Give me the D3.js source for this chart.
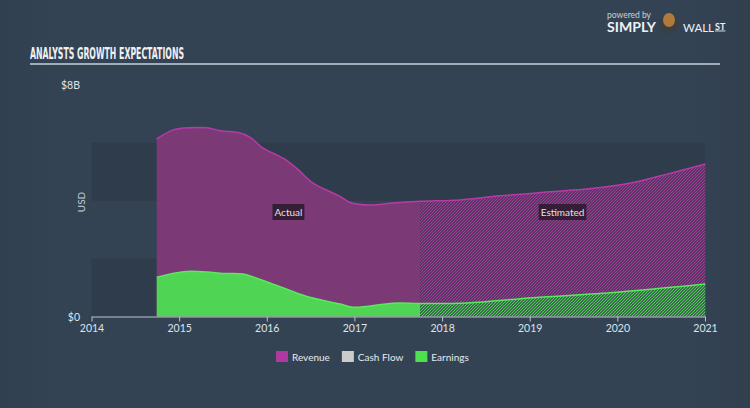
<!DOCTYPE html>
<html><head><meta charset="utf-8">
<script src="https://cdn.jsdelivr.net/npm/d3@7/dist/d3.min.js"></script>
<style>
html,body{margin:0;padding:0;background:#344354;}
svg{display:block;}
</style></head>
<body>
<svg id="c" width="750" height="408"></svg>
<script>
// ---- data ----
const revYears = [2014.744,2014.93,2015.045,2015.315,2015.467,2015.695,2015.81,2015.958,2016.186,2016.342,2016.529,2016.837,2016.95,2017.18,2017.44,2017.75,2018.207,2018.663,2019.425,2019.805,2020.18,2020.566,2021.003];
const revValues = [6.14,6.45,6.51,6.52,6.42,6.34,6.19,5.82,5.47,5.12,4.61,4.15,3.94,3.85,3.92,3.98,4.03,4.17,4.35,4.46,4.63,4.92,5.27];
const earnYears = [2014.744,2015.05,2015.315,2015.50,2015.73,2015.886,2016.15,2016.457,2016.837,2016.99,2017.44,2017.75,2018.283,2019.04,2019.995,2021.003];
const earnValues = [1.36,1.55,1.54,1.49,1.47,1.32,1.03,0.69,0.43,0.32,0.46,0.45,0.47,0.65,0.84,1.12];
const estimateStart = 2017.75;
const xTickYears = [2014,2015,2016,2017,2018,2019,2020,2021];
const yLabels = [{v:0,t:"$0"},{v:8,t:"$8B"}];
const bandEdges = [0,2,4,6];
const legendItems = [{name:"Revenue",color:"#b0389f"},{name:"Cash Flow",color:"#cccccc"},{name:"Earnings",color:"#4fe050"}];

// ---- setup ----
const svg = d3.select("#c");
const W=750,H=408;
const x = d3.scaleLinear().domain([2014,2021]).range([91.5,705]);
const y = d3.scaleLinear().domain([0,8]).range([316.5,85]);

const defs = svg.append("defs");
const bg = defs.append("linearGradient").attr("id","bg").attr("x1",0).attr("x2",1).attr("y1",0).attr("y2",0);
bg.append("stop").attr("offset","0%").attr("stop-color","#314050");
bg.append("stop").attr("offset","8%").attr("stop-color","#344354");
bg.append("stop").attr("offset","92%").attr("stop-color","#344354");
bg.append("stop").attr("offset","100%").attr("stop-color","#313f4f");
svg.append("rect").attr("width",W).attr("height",H).attr("fill","url(#bg)");

function hatch(id, color, base){
  const p = defs.append("pattern").attr("id",id).attr("patternUnits","userSpaceOnUse")
    .attr("width",3).attr("height",3);
  p.append("rect").attr("width",3).attr("height",3).attr("fill",base);
  p.append("path").attr("d","M-1,1 L1,-1 M0,3 L3,0 M2,4 L4,2").attr("stroke",color).attr("stroke-width",1.1);
}
hatch("hRev","#a83a9a","#3a3550");
hatch("hEarn","#4fd354","#35444f");

// bands
const bandG = svg.append("g");
bandEdges.forEach((b,i)=>{
  if(i%2===0){
    bandG.append("rect").attr("x",x(2014)).attr("width",x(2021)-x(2014))
      .attr("y",y(b+2)).attr("height",y(b)-y(b+2)).attr("fill","#2e3c4b");
  }
});

// data
const rev = revYears.map((d,i)=>({t:d,v:revValues[i]}));
const earn = earnYears.map((d,i)=>({t:d,v:earnValues[i]}));
const curve = d3.curveCatmullRom.alpha(0.5);
const area = d3.area().x(d=>x(d.t)).y0(y(0)).y1(d=>y(d.v)).curve(curve);
const line = d3.line().x(d=>x(d.t)).y(d=>y(d.v)).curve(curve);

defs.append("clipPath").attr("id","clipA").append("rect")
  .attr("x",0).attr("y",0).attr("width",x(estimateStart)).attr("height",H);
defs.append("clipPath").attr("id","clipE").append("rect")
  .attr("x",x(estimateStart)).attr("y",0).attr("width",W).attr("height",H);

// revenue
svg.append("path").datum(rev).attr("d",area).attr("fill","#7b3a76").attr("clip-path","url(#clipA)");
svg.append("path").datum(rev).attr("d",area).attr("fill","url(#hRev)").attr("clip-path","url(#clipE)");
svg.append("path").datum(rev).attr("d",line).attr("fill","none").attr("stroke","#b83aa8").attr("stroke-width",1.5);
// earnings
svg.append("path").datum(earn).attr("d",area).attr("fill","#50d453").attr("clip-path","url(#clipA)");
svg.append("path").datum(earn).attr("d",area).attr("fill","url(#hEarn)").attr("clip-path","url(#clipE)");
svg.append("path").datum(earn).attr("d",line).attr("fill","none").attr("stroke","#5ae85c").attr("stroke-width",1.5);

// labels Actual / Estimated
function tag(txt, cx){
  const g = svg.append("g");
  const t = g.append("text").attr("x",cx).attr("y",212).attr("text-anchor","middle")
    .attr("dominant-baseline","central").attr("fill","#e6e0e6")
    .attr("font-family","Lato, 'Open Sans', sans-serif").attr("font-size",10).text(txt);
  const bb = t.node().getBBox();
  g.insert("rect","text").attr("x",bb.x-2).attr("y",204).attr("width",bb.width+4).attr("height",16)
    .attr("fill","#2a1a2c").attr("opacity",0.85);
}
tag("Actual",(x(revYears[0])+x(estimateStart))/2);
tag("Estimated",(x(estimateStart)+x(2021))/2);

// x axis
const xAxis = d3.axisBottom(x).tickValues(xTickYears).tickFormat(d3.format("d")).tickSize(5).tickSizeOuter(0);
const ax = svg.append("g").attr("transform",`translate(0,${y(0)})`).call(xAxis);
ax.select(".domain").attr("stroke","#b8c2cc").attr("stroke-width",1.2);
ax.selectAll(".tick line").attr("stroke","#b8c2cc");
ax.selectAll(".tick text").attr("fill","#dde3e8").attr("font-family","Lato, 'Open Sans', sans-serif")
  .attr("font-size",10.5).attr("dy","0.75em");

// y labels
svg.selectAll(".ylab").data(yLabels).enter().append("text")
  .attr("x",80).attr("y",d=>y(d.v)).attr("text-anchor","end").attr("dominant-baseline","central")
  .attr("fill","#dde3e8").attr("font-family","Lato, 'Open Sans', sans-serif").attr("font-size",10.5).text(d=>d.t);
svg.append("text").attr("transform",`translate(85,202) rotate(-90)`).attr("text-anchor","middle")
  .attr("fill","#c8d0d8").attr("font-family","Lato, 'Open Sans', sans-serif").attr("font-size",10).text("USD");

// title
svg.append("text").attr("x",30).attr("y",58.5).attr("fill","#eef1f4")
  .attr("font-family","'Liberation Sans Narrow', 'DejaVu Sans Condensed', sans-serif").attr("font-weight","bold")
  .attr("font-size",15.5).attr("textLength",154).attr("lengthAdjust","spacingAndGlyphs").text("ANALYSTS GROWTH EXPECTATIONS");
svg.append("line").attr("x1",30).attr("x2",720).attr("y1",64).attr("y2",64).attr("stroke","#c9d1d9").attr("stroke-width",1.5);

// logo
svg.append("text").attr("x",607).attr("y",18).attr("fill","#c8d0d8").attr("font-family","Lato, sans-serif").attr("font-size",8.5).text("powered by");
svg.append("text").attr("x",607).attr("y",31.5).attr("fill","#eef1f4").attr("font-family","Lato, sans-serif").attr("font-weight","bold").attr("font-size",13.5).attr("textLength",49).attr("lengthAdjust","spacingAndGlyphs").text("SIMPLY");
svg.append("circle").attr("cx",669).attr("cy",24).attr("r",10).attr("fill","#3a3f46");
svg.append("ellipse").attr("cx",669).attr("cy",20).attr("rx",6).attr("ry",7).attr("fill","#b07a3a");
const wl = svg.append("text").attr("x",683).attr("y",31.5).attr("fill","#eef1f4").attr("font-family","Lato, sans-serif").attr("font-size",11.5);
wl.append("tspan").text("WALL");
wl.append("tspan").attr("dx",1).attr("font-weight","bold").attr("font-size",9).attr("dy",-2).attr("text-decoration","underline").text("ST");

// legend
const lg = svg.append("g");
let lx = 276;
legendItems.forEach(it=>{
  lg.append("rect").attr("x",lx).attr("y",351).attr("width",12).attr("height",11).attr("fill",it.color);
  const t = lg.append("text").attr("x",lx+16).attr("y",356.5).attr("dominant-baseline","central")
    .attr("fill","#e6eaee").attr("font-family","Lato, 'Open Sans', sans-serif").attr("font-size",10).text(it.name);
  lx += 16 + t.node().getComputedTextLength() + 12;
});
</script>
</body></html>
